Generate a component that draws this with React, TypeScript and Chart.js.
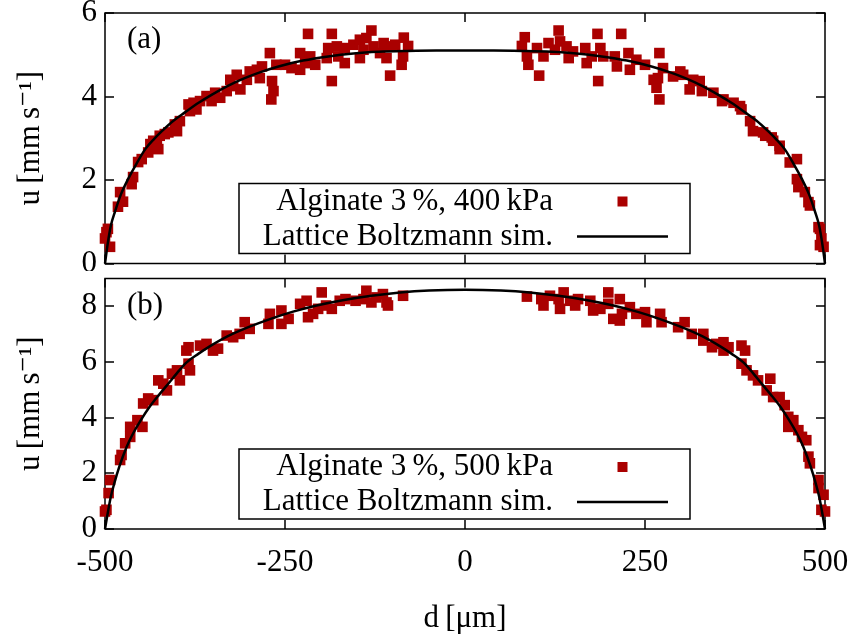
import React, { useEffect, useRef } from 'react';
import { Chart, registerables } from 'chart.js';

Chart.register(...registerables);

const FONT_FAMILY = "'Liberation Serif', 'DejaVu Serif', serif";
const RED = '#aa0000';

// x axis
const xMin = -500;
const xMax = 500;
const xStep = 250;

// panel (a): Alginate 3 %, 400 kPa
const aLabel = 'Alginate 3\u2009%, 400\u2009kPa';
const aYMax = 6;
const aScatterX = [
  -500, -496, -493, -498, -482, -479, -475, -463, -461, -454, -449, -440, -437, -433, -428, -426,
  -424, -417, -412, -403, -400, -396, -384, -382, -377, -373, -368, -359, -352, -347, -340,
  -331, -326, -322, -317, -312, -303, -299, -289, -285, -282, -271, -268, -266, -269, -262,
  -250, -241, -229, -229, -222, -218, -215, -208, -192, -190, -185, -185, -178, -176, -167, -167,
  -155, -146, -146, -141, -137, -130, -127, -118, -113, -109, -104, -104, -97, -88, -86, -85, -79,
  79, 83, 86, 88, 100, 103, 109, 116, 125, 130, 132, 141, 144, 150, 167, 169, 176, 184, 185, 188,
  192, 208, 211, 217, 227, 229, 238, 250, 262, 266, 268, 270, 270, 275, 289, 299, 303, 312, 317,
  326, 329, 345, 357, 359, 373, 382, 384, 396, 400, 414, 417, 426, 428, 437, 437, 451, 461, 461,
  463, 472, 477, 479, 491, 493, 493, 495, 498,
];
const aScatterY = [
  0.60, 0.83, 0.40, 0.75, 1.36, 1.71, 1.48, 1.90, 2.07, 2.43, 2.50, 2.66, 2.86, 2.94, 2.90, 2.74,
  3.06, 3.10, 3.14, 3.33, 3.17, 3.41, 3.81, 3.65, 3.85, 3.69, 3.89, 4.01, 3.89, 4.09, 3.97,
  4.13, 4.40, 4.25, 4.52, 4.17, 4.40, 4.60, 4.64, 4.44, 4.72, 5.04, 4.37, 4.13, 3.93, 4.76,
  4.76, 4.68, 5.04, 4.64, 4.80, 5.50, 4.96, 4.76, 4.92, 5.16, 5.50, 4.37, 5.20, 4.96, 5.16, 4.80,
  5.24, 5.36, 4.92, 5.12, 5.40, 5.58, 5.20, 5.04, 5.28, 4.92, 5.20, 4.50, 5.24, 4.76, 4.96, 5.41, 5.21,
  5.21, 5.42, 4.96, 4.76, 5.16, 4.50, 4.96, 5.28, 5.12, 5.58, 5.32, 5.20, 4.92, 5.08, 5.16, 4.80, 4.96, 5.50, 4.37, 5.16,
  4.96, 4.96, 4.72, 5.50, 5.04, 4.64, 4.88, 4.76, 4.40, 4.21, 4.44, 3.93, 5.04, 4.68, 4.48, 4.60, 4.52, 4.17, 4.40,
  4.37, 4.13, 4.09, 3.89, 3.93, 3.85, 3.77, 3.69, 3.41, 3.17, 3.14, 3.06, 3.02, 2.94, 2.74, 2.82, 2.42, 2.50, 2.02,
  1.83, 1.71, 1.47, 1.39, 0.87, 0.83, 0.44, 0.60, 0.40,
];
const aCurveX = [
  -500, -496, -492, -486, -478, -468, -456, -444, -432, -421, -405, -389, -370, -352, -330, -306,
  -283, -259, -225, -190, -155, -120, -80, -40, 0, 40, 80, 120, 155, 190, 225, 259, 283, 306, 330,
  352, 370, 389, 405, 421, 432, 444, 456, 468, 478, 486, 492, 496, 500,
];
const aCurveY = [
  0, 0.50, 0.90, 1.25, 1.65, 2.02, 2.40, 2.74, 2.98, 3.17, 3.42, 3.62, 3.85, 4.04, 4.25, 4.44,
  4.59, 4.72, 4.86, 4.96, 5.03, 5.07, 5.09, 5.10, 5.10, 5.10, 5.09, 5.07, 5.03, 4.96, 4.86, 4.72, 4.59, 4.44, 4.25,
  4.04, 3.85, 3.62, 3.42, 3.17, 2.98, 2.74, 2.40, 2.02, 1.65, 1.25, 0.90, 0.50, 0,
];

// panel (b): Alginate 3 %, 500 kPa
const bLabel = 'Alginate 3\u2009%, 500\u2009kPa';
const bYMax = 9;
const bScatterX = [
  -500, -498, -495, -493, -479, -477, -472, -465, -465, -455, -448, -447, -440, -433, -426, -419, -414,
  -407, -400, -396, -384, -387, -384, -382, -368, -359, -350, -343, -331, -322, -313, -306, -299,
  -271, -273, -255, -255, -245, -229, -220, -218, -211, -204, -199, -193, -185, -174, -166, -152,
  -141, -137, -130, -123, -114, -109, -107, -86,
  86, 106, 109, 118, 130, 137, 132, 146, 157, 153, 174, 178, 188, 199, 199, 206, 215, 218, 215,
  229, 238, 250, 252, 271, 273, 296, 305, 315, 331, 331, 343, 349, 359, 359, 366, 384, 389, 384,
  391, 400, 407, 424, 419, 428, 437, 444, 449, 456, 449, 463, 468, 474, 477, 479, 491, 491, 498, 495, 500,
];
const bScatterY = [
  0.63, 0.69, 1.29, 1.76, 2.48, 2.66, 3.08, 3.31, 3.67, 3.91, 3.67, 4.51, 4.69, 4.63, 5.34, 5.22, 4.98,
  5.58, 5.70, 5.34, 6.53, 6.41, 5.94, 5.70, 6.59, 6.65, 6.41, 6.48, 6.95, 6.89, 7.01, 7.43, 7.19,
  7.73, 7.37, 7.85, 7.37, 7.55, 8.09, 8.20, 7.61, 7.73, 7.91, 8.50, 8.03, 7.91, 8.20, 8.26, 8.20,
  8.26, 8.56, 8.14, 8.32, 8.44, 8.14, 8.03, 8.38,
  8.35, 8.26, 8.03, 8.38, 8.26, 8.50, 7.91, 8.20, 8.26, 8.03, 8.20, 7.85, 7.91, 8.50, 8.09, 7.55, 8.26, 7.73, 7.49,
  7.97, 7.73, 7.79, 7.43, 7.73, 7.43, 7.25, 7.43, 7.01, 7.01, 6.77, 6.53, 6.65, 6.71, 6.41, 6.53, 6.59, 6.41, 5.94,
  5.70, 5.52, 5.34, 5.40, 4.98, 4.74, 4.74, 4.45, 4.03, 3.91, 3.67, 3.55, 3.31, 3.19, 2.60, 2.36, 1.76, 1.47, 1.23, 0.69, 0.63,
];
const bCurveX = [
  -500, -496, -492, -487, -480, -470, -461, -450, -438, -425, -414, -400, -387, -370, -354, -330,
  -300, -270, -240, -206, -170, -130, -90, -50, 0, 50, 90, 130, 170, 206, 240, 270, 300, 330, 354,
  370, 387, 400, 414, 425, 438, 450, 461, 470, 480, 487, 492, 496, 500,
];
const bCurveY = [
  0, 0.60, 1.15, 1.65, 2.25, 2.95, 3.43, 3.92, 4.39, 4.82, 5.16, 5.60, 5.98, 6.30, 6.57, 6.92,
  7.26, 7.55, 7.80, 8.03, 8.22, 8.38, 8.50, 8.57, 8.60, 8.57, 8.50, 8.38, 8.22, 8.03, 7.80, 7.55, 7.26, 6.92, 6.57,
  6.30, 5.98, 5.60, 5.16, 4.82, 4.39, 3.92, 3.43, 2.95, 2.25, 1.65, 1.15, 0.60, 0,
];

const simLabel = 'Lattice Boltzmann sim.';
const yTitle = 'u\u2009[mm\u2009s\u207B\u00B9]';
const xTitle = 'd\u2009[\u03BCm]';
const panelTags = ['(a)', '(b)'];

const FS = 31;
const tickFont = { family: FONT_FAMILY, size: FS };

const decoPlugin = {
  id: 'deco',
  beforeDatasetsDraw(chart: any) {
    const { ctx, chartArea: a, scales } = chart;
    ctx.save();
    ctx.strokeStyle = '#000';
    ctx.lineWidth = 1.5;
    ctx.strokeRect(a.left, a.top, a.right - a.left, a.bottom - a.top);
    const L = 9;
    ctx.beginPath();
    scales.x.ticks.forEach((t: any) => {
      const px = Math.round(scales.x.getPixelForValue(t.value));
      ctx.moveTo(px, a.bottom);
      ctx.lineTo(px, a.bottom - L);
      ctx.moveTo(px, a.top);
      ctx.lineTo(px, a.top + L);
    });
    scales.y.ticks.forEach((t: any) => {
      const py = Math.round(scales.y.getPixelForValue(t.value));
      ctx.moveTo(a.left, py);
      ctx.lineTo(a.left + L, py);
      ctx.moveTo(a.right, py);
      ctx.lineTo(a.right - L, py);
    });
    ctx.stroke();
    ctx.restore();
  },
  afterDatasetsDraw(chart: any, _args: any, opts: any) {
    const { ctx, chartArea: a } = chart;
    const ds = chart.data.datasets;
    ctx.save();
    ctx.font = `${FS}px ${FONT_FAMILY}`;
    ctx.fillStyle = '#000';
    ctx.textBaseline = 'middle';
    ctx.textAlign = 'left';
    ctx.fillText(opts.tag, a.left + 22, a.top + 27);
    // legend box
    const bx = a.left + 134;
    const bw = 451;
    const bh = 70;
    const by = a.bottom - 10 - bh;
    ctx.strokeStyle = '#000';
    ctx.lineWidth = 1.5;
    ctx.strokeRect(bx, by, bw, bh);
    ctx.textAlign = 'right';
    const tx = a.left + 448;
    ctx.fillText(ds[0].label, tx, by + 18);
    ctx.fillText(ds[1].label, tx, by + 53);
    ctx.fillStyle = RED;
    ctx.fillRect(a.left + 512.5, by + 13, 10, 10);
    ctx.strokeStyle = '#000';
    ctx.lineWidth = 2.5;
    ctx.beginPath();
    ctx.moveTo(a.left + 472, by + 53);
    ctx.lineTo(a.left + 563, by + 53);
    ctx.stroke();
    ctx.restore();
  },
};

function makeConfig(
  label: string,
  sx: number[],
  sy: number[],
  cx: number[],
  cy: number[],
  yMax: number,
  tag: string,
  bottom: boolean,
) {
  return {
    type: 'scatter' as const,
    data: {
      datasets: [
        {
          label,
          data: sx.map((x, i) => ({ x, y: sy[i] })),
          pointStyle: 'rect',
          pointRadius: 7.5,
          pointHoverRadius: 7.5,
          backgroundColor: RED,
          borderWidth: 0,
          order: 1,
          clip: false,
        },
        {
          label: simLabel,
          data: cx.map((x, i) => ({ x, y: cy[i] })),
          showLine: true,
          pointRadius: 0,
          borderColor: '#000',
          borderWidth: 2.5,
          cubicInterpolationMode: 'monotone',
          order: 0,
          clip: false,
        },
      ],
    },
    options: {
      responsive: false,
      animation: false,
      devicePixelRatio: 1,
      events: [],
      layout: { padding: bottom ? { top: 6, right: 26, bottom: 0, left: 0 } : { top: 13, right: 26, bottom: 6, left: 0 } },
      plugins: {
        legend: { display: false },
        tooltip: { enabled: false },
        deco: { tag },
      },
      scales: {
        x: {
          type: 'linear',
          min: xMin,
          max: xMax,
          ticks: { display: bottom, stepSize: xStep, font: tickFont, color: '#000', padding: 15, maxRotation: 0, autoSkip: false },
          grid: { display: false, drawTicks: false },
          border: { display: false },
          title: bottom
            ? { display: true, text: xTitle, font: tickFont, color: '#000', padding: { top: 0, bottom: 1 } }
            : { display: false },
          afterFit: (s: any) => {
            s.height = bottom ? 109 : 0;
            s.paddingLeft = 0;
            s.paddingRight = 0;
          },
        },
        y: {
          type: 'linear',
          min: 0,
          max: yMax,
          ticks: { stepSize: 2, font: tickFont, color: '#000', padding: 8, includeBounds: false },
          grid: { display: false, drawTicks: false },
          border: { display: false },
          title: { display: true, text: yTitle, font: tickFont, color: '#000', padding: { top: 12, bottom: 0 } },
          afterFit: (s: any) => {
            s.width = 105;
            s.paddingTop = 0;
            s.paddingBottom = 0;
          },
        },
      },
    },
    plugins: [decoPlugin],
  };
}

export default function App() {
  const refA = useRef<HTMLCanvasElement>(null);
  const refB = useRef<HTMLCanvasElement>(null);

  useEffect(() => {
    const chA = new Chart(
      refA.current as HTMLCanvasElement,
      makeConfig(aLabel, aScatterX, aScatterY, aCurveX, aCurveY, aYMax, panelTags[0], false) as any,
    );
    const chB = new Chart(
      refB.current as HTMLCanvasElement,
      makeConfig(bLabel, bScatterX, bScatterY, bCurveX, bCurveY, bYMax, panelTags[1], true) as any,
    );
    return () => {
      chA.destroy();
      chB.destroy();
    };
  }, []);

  return (
    <div style={{ position: 'absolute', left: 0, top: 0, width: 851, height: 638, background: '#fff' }}>
      <canvas ref={refA} width={851} height={271} style={{ position: 'absolute', left: 0, top: 0, width: 851, height: 271 }} />
      <canvas ref={refB} width={851} height={367} style={{ position: 'absolute', left: 0, top: 271, width: 851, height: 367 }} />
    </div>
  );
}
